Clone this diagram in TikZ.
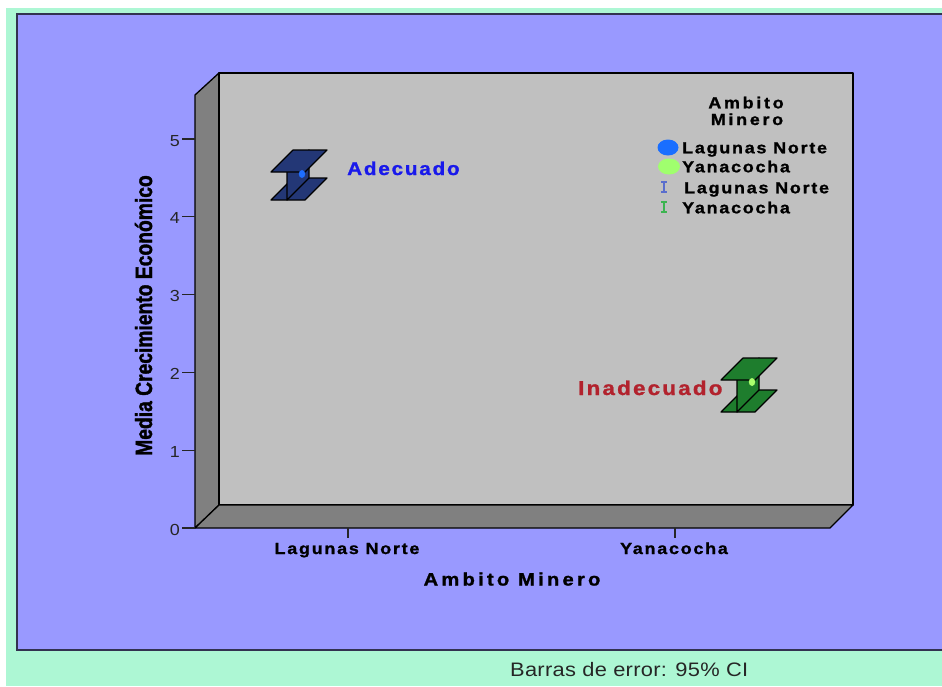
\documentclass[tikz,border=0pt]{standalone}
\usepackage{fontspec}
\setmainfont{Liberation Sans}[FakeStretch=1.12]
\newfontfamily\bA{Liberation Sans}[LetterSpace=11,FakeStretch=1.12,UprightFont=*-Bold,FakeBold=1.2]
\newfontfamily\bAd{Liberation Sans}[LetterSpace=9.5,FakeStretch=1.12,UprightFont=*-Bold,FakeBold=1.2]
\newfontfamily\bIn{Liberation Sans}[LetterSpace=11,FakeStretch=1.12,UprightFont=*-Bold,FakeBold=1.2]
\newfontfamily\bB{Liberation Sans}[LetterSpace=17,FakeStretch=1.12,UprightFont=*-Bold,FakeBold=1.2]
\newfontfamily\bC{Liberation Sans}[LetterSpace=18,FakeStretch=1.12,UprightFont=*-Bold,FakeBold=1.2]
\newfontfamily\rA{Liberation Sans}[LetterSpace=1.5,FakeStretch=1.12]
\newfontfamily\narrowf{Liberation Sans}[UprightFont=*-Bold,FakeStretch=0.82,FakeBold=1.5]
\definecolor{mint}{RGB}{173,247,212}
\definecolor{lav}{RGB}{153,153,255}
\definecolor{backwall}{RGB}{192,192,192}
\definecolor{sidewall}{RGB}{128,128,128}
\definecolor{navybeam}{RGB}{35,55,118}
\definecolor{greenbeam}{RGB}{30,125,45}
\definecolor{bluedot}{RGB}{30,110,255}
\definecolor{greendot}{RGB}{170,255,110}
\definecolor{adeblue}{RGB}{25,25,235}
\definecolor{inared}{RGB}{178,34,45}
\definecolor{legblue}{RGB}{25,110,255}
\definecolor{leggreen}{RGB}{160,255,110}
\definecolor{legIblue}{RGB}{90,110,205}
\definecolor{legIgreen}{RGB}{60,180,80}
\definecolor{framec}{RGB}{50,50,80}
\tikzset{
  wall/.style={draw=black,line width=1.3pt,line join=round},
  beam/.style={draw=black,line width=1.2pt,line join=round},
  tick/.style={draw=black!85,line width=1.1pt},
  ticklab/.style={font=\fontsize{16}{18}\selectfont,text=black!85,inner sep=0pt},
  catlab/.style={font=\bA\fontsize{16}{18}\selectfont,text=black,inner sep=0pt},
  legtxt/.style={font=\bA\fontsize{16}{18}\selectfont,text=black,inner sep=0pt,anchor=base west},
  legtitle/.style={font=\bB\fontsize{16}{18}\selectfont,text=black,inner sep=0pt,anchor=base},
  legI/.style={line width=1.1pt},
}
\newcommand\ibeam[5]{%
  \begin{scope}[shift={(#1,#2)}]
    \filldraw[beam,fill=#4] (-16,#3) -- (6,{#3-22}) -- (40,{#3-22}) -- (18,#3) -- cycle;
    \filldraw[beam,fill=#4] (0,0) -- (22,-22) -- (22,{#3-22}) -- (0,#3) -- cycle;
    \filldraw[beam,fill=#4] (-16,0) -- (6,-22) -- (40,-22) -- (18,0) -- cycle;
    \fill[#5] (15,2) ellipse [x radius=3.2pt, y radius=4pt];
  \end{scope}}
\begin{document}
\begin{tikzpicture}[x=1pt,y=-1pt]
\useasboundingbox (0,0) rectangle (942,686);
\fill[white] (0,0) rectangle (942,686);
\fill[mint] (6,8) rectangle (942,686);
\fill[lav] (17,14) rectangle (950,650);
\draw[framec,line width=2pt] (950,650) -- (17,650) -- (17,14) -- (950,14);
% 3D plot box
\filldraw[wall,fill=sidewall] (195,95) -- (219,73) -- (219,505) -- (195,528) -- cycle;
\filldraw[wall,fill=backwall] (219,73) rectangle (853,505);
\filldraw[wall,fill=sidewall] (195,528) -- (219,505) -- (853,505) -- (830,528) -- cycle;
\draw[tick] (182,528) -- (195,528);
% y ticks and labels
\foreach \k in {0,...,5}{
  \draw[tick] (182,{528-77.8*\k}) -- (195,{528-77.8*\k});
  \node[ticklab,anchor=base east] (ytick\k) at (180,{535-77.8*\k}) {\k};
}
% x ticks
\draw[tick] (348,528) -- (348,538);
\draw[tick] (675,528) -- (675,538);
\node[catlab,anchor=base] (xlabLN) at (347,554) {Lagunas Norte};
\node[catlab,anchor=base] (xlabYA) at (674,554) {Yanacocha};
% axis titles
\node[font=\bC\fontsize{18}{20}\selectfont,text=black,inner sep=0pt,anchor=base] (xtitle) at (512,585.5) {Ambito Minero};
\node[font=\narrowf\fontsize{23.5}{26}\selectfont,text=black,inner sep=0pt,anchor=base,rotate=90] (ytitle) at (152,315.5) {Media Crecimiento Económico};
% error bars
\ibeam{287}{172}{28}{navybeam}{bluedot}
\ibeam{737}{380}{32}{greenbeam}{greendot}
\node[font=\bAd\fontsize{18.5}{20}\selectfont,text=adeblue,inner sep=0pt,anchor=base west] (ade) at (347,175) {Adecuado};
\node[font=\bIn\fontsize{20}{22}\selectfont,text=inared,inner sep=0pt,anchor=base west] (inade) at (578,395) {Inadecuado};
% legend
\node[legtitle] (lt1) at (746,108.3) {Ambito};
\node[legtitle] (lt2) at (747,125) {Minero};
\fill[legblue] (668,147.5) ellipse [x radius=10.5pt, y radius=8pt];
\node[legtxt] (l1) at (682,153.3) {Lagunas Norte};
\fill[leggreen] (669,166.5) ellipse [x radius=11pt, y radius=8pt];
\node[legtxt] (l2) at (682,172.3) {Yanacocha};
\draw[legI,legIblue] (661,182) -- (667,182) (664,182) -- (664,192) (661,192) -- (667,192);
\node[legtxt] (l3) at (684,193.3) {Lagunas Norte};
\draw[legI,legIgreen] (661,202) -- (667,202) (664,202) -- (664,212) (661,212) -- (667,212);
\node[legtxt] (l4) at (682,213.3) {Yanacocha};
% footer
\node[font=\rA\fontsize{19.5}{22}\selectfont,text=black!85,inner sep=0pt,anchor=base west] (foot) at (510,676.5) {Barras de error: 95\% CI};
\end{tikzpicture}
\end{document}
